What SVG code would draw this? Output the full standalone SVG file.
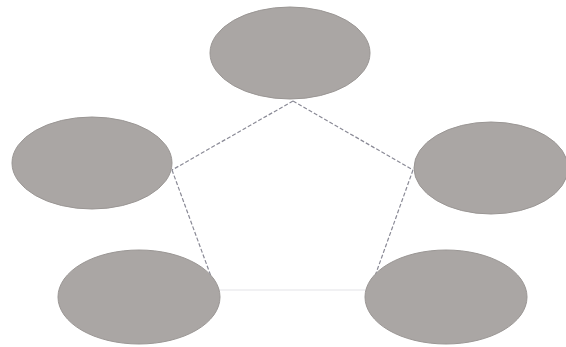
<svg xmlns="http://www.w3.org/2000/svg" width="566" height="347" viewBox="0 0 566 347">
<style>
.n{fill:#aaa6a4;stroke:#9a9694;stroke-width:1}
.c{stroke:#8a8a96;stroke-width:1.2;stroke-dasharray:4 2;fill:none}
.f{stroke:#e4e4e8;stroke-width:1.2;fill:none}
</style>
<rect width="566" height="347" fill="#fff"/>
<g id="connectors">
<line class="c" x1="293" y1="101" x2="172" y2="170"/>
<line class="c" x1="293" y1="101" x2="413" y2="170"/>
<line class="c" x1="172" y1="170" x2="216" y2="290"/>
<line class="c" x1="413" y1="170" x2="370" y2="290"/>
<line class="f" x1="216" y1="290" x2="370" y2="290"/>
</g>
<g id="node-top"><ellipse class="n" cx="290" cy="53" rx="80" ry="46"/></g>
<g id="node-left"><ellipse class="n" cx="92" cy="163" rx="80" ry="46"/></g>
<g id="node-right"><ellipse class="n" cx="491" cy="168" rx="77" ry="46"/></g>
<g id="node-bottom-left"><ellipse class="n" cx="139" cy="297" rx="81" ry="47"/></g>
<g id="node-bottom-right"><ellipse class="n" cx="446" cy="297" rx="81" ry="47"/></g>
</svg>
